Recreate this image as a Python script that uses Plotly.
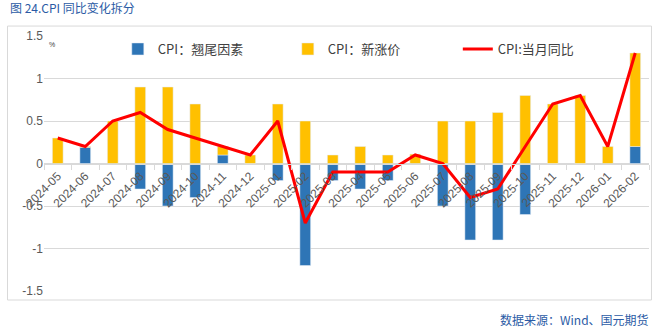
import plotly.graph_objects as go

months = ["2024-05", "2024-06", "2024-07", "2024-08", "2024-09", "2024-10", "2024-11",
          "2024-12", "2025-01", "2025-02", "2025-03", "2025-04", "2025-05", "2025-06",
          "2025-07", "2025-08", "2025-09", "2025-10", "2025-11", "2025-12", "2026-01", "2026-02"]
carryover = [-0.01, 0.19, -0.01, -0.3, -0.5, -0.4, 0.1, 0.0, -0.2, -1.2, -0.2, -0.3, -0.2, -0.01,
             -0.5, -0.9, -0.9, -0.6, 0.0, 0.0, -0.01, 0.2]
new_price = [0.3, 0.01, 0.5, 0.9, 0.9, 0.7, 0.1, 0.1, 0.7, 0.5, 0.1, 0.2, 0.1, 0.11,
             0.5, 0.5, 0.6, 0.8, 0.7, 0.8, 0.2, 1.1]
cpi_yoy = [0.3, 0.2, 0.5, 0.6, 0.4, 0.3, 0.2, 0.1, 0.5, -0.7, -0.1, -0.1, -0.1, 0.1,
           0.0, -0.4, -0.3, 0.2, 0.7, 0.8, 0.2, 1.3]
y_ticks = [-1.5, -1, -0.5, 0, 0.5, 1, 1.5]

CJK = "Noto Sans CJK SC"
LAT = "Liberation Sans"

fig = go.Figure()
fig.add_trace(go.Bar(x=months, y=carryover, name="CPI：翘尾因素", marker_color="#2E75B6"))
fig.add_trace(go.Bar(x=months, y=new_price, name="CPI：新涨价", marker_color="#FFC000"))
fig.add_trace(go.Scatter(x=months, y=cpi_yoy, name="CPI:当月同比", mode="lines",
                         line=dict(color="#FF0000", width=3)))

fig.update_layout(
    width=665, height=330,
    margin=dict(l=44, r=16, t=36, b=39),
    paper_bgcolor="white", plot_bgcolor="white",
    barmode="relative", bargap=0.61,
    font=dict(family=LAT, color="#595959", size=12),
    legend=dict(orientation="h", x=0.122, y=0.949, xanchor="left", yanchor="middle",
                font=dict(family=CJK, size=13, color="#404040"),
                bgcolor="rgba(0,0,0,0)", traceorder="normal", entrywidth=125,
                entrywidthmode="pixels"),
    xaxis=dict(type="category", anchor="free", position=0.5, showline=True,
               linecolor="#d9d9d9", linewidth=1, ticks="outside", ticklen=5,
               tickcolor="#d9d9d9", tickson="boundaries", tickangle=-45,
               tickfont=dict(family=LAT, size=12, color="#595959"), showgrid=False),
    yaxis=dict(range=[-1.5, 1.5], tickvals=y_ticks, ticktext=[f"{v:g}" for v in y_ticks],
               showgrid=True, gridcolor="#d9d9d9", zeroline=False, showline=False,
               tickfont=dict(family=LAT, size=12, color="#595959"), ticks=""),
    shapes=[dict(type="rect", xref="paper", yref="paper", x0=-0.0603, x1=1.0041,
                 y0=-0.0353, y1=1.039, line=dict(color="#d9d9d9", width=1), layer="below")],
    annotations=[
        dict(text="图 24.CPI 同比变化拆分", xref="paper", yref="paper", x=-0.0595, y=1.11,
             xanchor="left", yanchor="middle", showarrow=False,
             font=dict(family=CJK, size=12, color="#2B5BA5")),
        dict(text="数据来源：Wind、国元期货", xref="paper", yref="paper", x=1.0033, y=-0.11,
             xanchor="right", yanchor="middle", showarrow=False,
             font=dict(family=CJK, size=12, color="#2B5BA5")),
        dict(text="%", xref="paper", yref="paper", x=0.005, y=0.965,
             xanchor="left", yanchor="middle", showarrow=False,
             font=dict(family=LAT, size=7, color="#404040")),
    ],
)

fig.write_html("out.html")
